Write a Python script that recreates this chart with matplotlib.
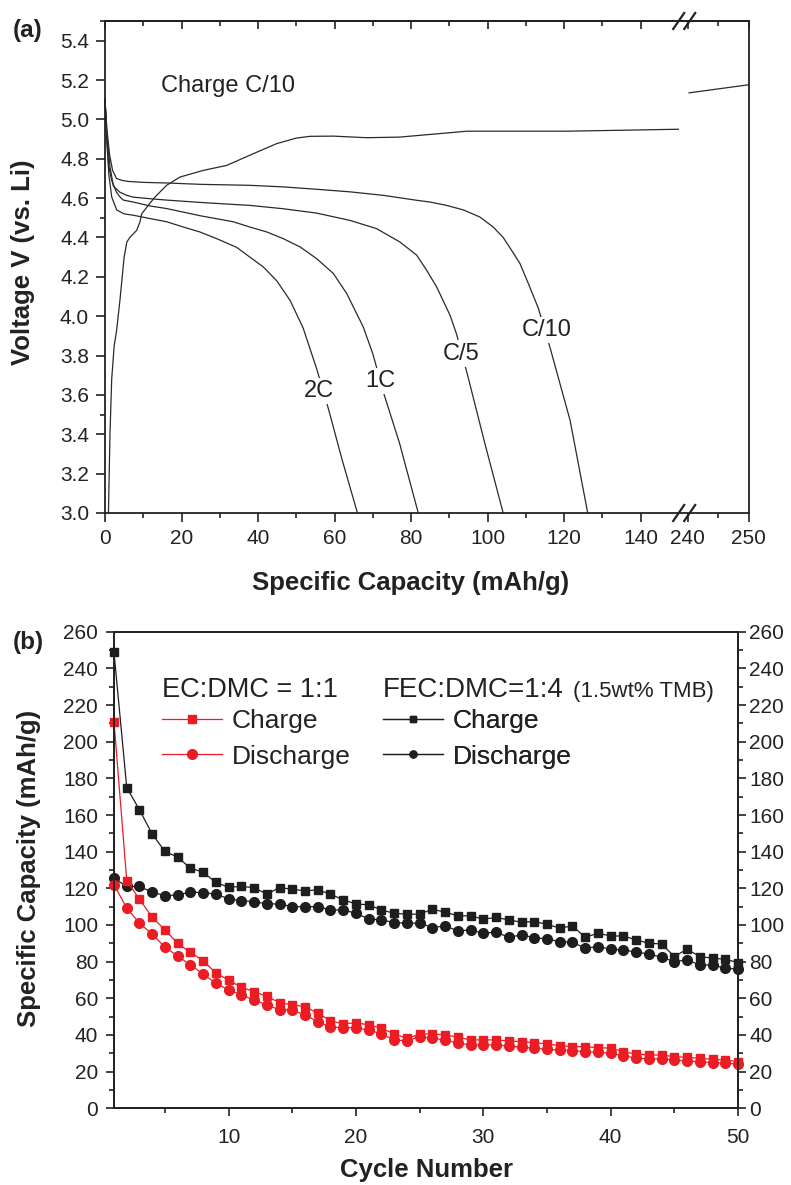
import matplotlib
matplotlib.use("Agg")
import matplotlib.pyplot as plt
from matplotlib.lines import Line2D

plt.rcParams['font.family'] = ['Liberation Sans', 'DejaVu Sans']

W, H = 791, 1185

# ---------------- panel (a): voltage profiles ----------------
c10_x = [0, 0.5, 1.2, 2.0, 3.0, 4.5, 6, 10, 16, 25, 37.9, 46.6, 55.3, 64, 72.8, 81.5, 85, 89.3, 93.7, 98, 101.5,
         104.1, 106.3, 108.5, 110.7, 113.3, 116.5, 121.6, 126.2]
c10_v = [5.10, 4.95, 4.82, 4.74, 4.70, 4.69, 4.685, 4.68, 4.677, 4.67, 4.665, 4.657, 4.645, 4.632, 4.614, 4.589, 4.58,
         4.563, 4.54, 4.504, 4.453, 4.40, 4.335, 4.267, 4.165, 4.04, 3.83, 3.47, 3.0]

c5_x = [0, 0.5, 1.3, 2.2, 3.9, 5.7, 7.4, 11.8, 16.1, 25, 33.5, 37.9, 46.6, 55.3, 64, 71, 77.1, 81.5, 84.1, 86.7,
        90.2, 91.9, 94.8, 99.3, 104.1]
c5_v = [5.10, 4.92, 4.76, 4.66, 4.63, 4.614, 4.605, 4.597, 4.59, 4.578, 4.568, 4.563, 4.546, 4.524, 4.487, 4.445,
        4.377, 4.31, 4.233, 4.149, 4.005, 3.91, 3.70, 3.354, 3.0]

c1_x = [0, 0.5, 1.0, 1.75, 3.0, 3.9, 4.8, 7.4, 11.8, 16.1, 25, 33.5, 37.9, 42.3, 46.6, 51, 55.3, 59.7, 63.2, 67.5,
        70, 73, 77, 81.9]
c1_v = [5.10, 4.90, 4.76, 4.69, 4.63, 4.606, 4.59, 4.58, 4.56, 4.547, 4.51, 4.48, 4.453, 4.428, 4.394, 4.352, 4.293,
        4.217, 4.115, 3.946, 3.81, 3.60, 3.355, 3.0]

c2_x = [0, 0.5, 1.0, 1.75, 3.05, 5, 7.4, 11.8, 16.1, 20.5, 24.8, 29.2, 34.4, 37.9, 41.4, 44.9, 48.4, 51.8, 55.3,
        58.4, 62, 66]
c2_v = [5.10, 4.88, 4.72, 4.606, 4.54, 4.52, 4.513, 4.496, 4.48, 4.453, 4.428, 4.394, 4.35, 4.30, 4.25, 4.18, 4.08,
        3.94, 3.735, 3.53, 3.27, 3.0]

chg_x = [0.9, 1.3, 1.75, 2.4, 3.05, 3.9, 4.4, 5.0, 5.7, 6.5, 8.3, 9.15, 9.6, 11.3, 13.1, 16.1, 19.6, 25.7,
         31.8, 38.8, 44.9, 50, 53.6, 59.7, 68.4, 77, 94.6, 120.7, 149.9]
chg_v = [3.0, 3.4, 3.68, 3.85, 3.93, 4.08, 4.18, 4.30, 4.377, 4.40, 4.437, 4.48, 4.52, 4.563, 4.606, 4.665, 4.707, 4.741,
         4.766, 4.826, 4.877, 4.905, 4.914, 4.915, 4.907, 4.91, 4.94, 4.94, 4.95]
chg_hi_x = [240.2, 250]
chg_hi_v = [5.135, 5.176]

rate_labels = ['2C', '1C', 'C/5', 'C/10']
rate_lab_x = [55.9, 71.9, 93.0, 115.5]
rate_lab_v = [3.62, 3.67, 3.81, 3.93]

# ---------------- panel (b): cycling ----------------
cycles = list(range(1, 51))
ec_charge = [211, 124.2, 114, 104.3, 97.3, 90, 85, 80.6, 73.7, 70, 66, 63.7, 61, 57.7, 56.4, 55.5, 51.9, 47.8, 46, 46.7,
             45.5, 43.7, 40.6, 38.2, 40.4, 40.6, 40, 38.8, 37.3, 37.3, 37.3, 36.7, 36.4, 35.8, 35.1, 34.2, 33.6, 33.6, 33.1, 32.8,
             30.9, 29.6, 29.1, 29, 28.2, 27.8, 27.3, 26.7, 26.4, 25.4]
ec_discharge = [122, 109.2, 101, 95, 87.9, 83.1, 78.2, 73.3, 68.2, 64.6, 61.9, 59.1, 56.4, 53.7, 53.7, 50.9, 47.3, 44.4, 44, 44,
                42.7, 40.6, 37.3, 36.8, 39.1, 38.2, 37.3, 35.5, 34.6, 34.6, 34.6, 34, 33.3, 32.8, 32.2, 31.8, 31.5, 30.9, 30.6, 30,
                28.7, 27.3, 27, 27, 26.4, 25.8, 25.4, 24.9, 24.6, 24.2]
fec_charge = [248.7, 175, 162.8, 149.6, 140.1, 137, 131, 128.8, 123.2, 120.6, 121, 120.4, 116.8, 120.4, 119.5, 118.6, 119.2,
              116.8, 113.7, 111.5, 111, 108.2, 106.4, 105.9, 105.9, 108.6, 107, 105, 105, 103.2, 104.1, 102.8, 101.5, 101.9,
              100.4, 98.3, 99.5, 93.3, 95.5, 94, 94, 91.9, 90, 89.7, 82.8, 86.8, 82.8, 81.9, 81.3, 79.5]
fec_discharge = [125.5, 121, 121, 117.9, 116, 116.4, 117.9, 117.7, 116.8, 114.3, 113.2, 112.8, 111.5, 111.5, 110, 110, 110,
                 108.2, 108.2, 106.4, 103.3, 102.8, 101.3, 101, 101, 98.6, 99.5, 96.8, 97.3, 95.5, 96.1, 93.3, 94.6, 93.1,
                 92.4, 90.9, 90.6, 87.3, 88.2, 86.8, 86.4, 85.2, 84.2, 82.4, 80, 81, 78.2, 78.2, 76.4, 75.9]

RED = '#ec1c24'
BLK = '#1e1e1e'
LINE = '#2a2a2a'
TXT = '#222222'

fig = plt.figure(figsize=(W / 100, H / 100), dpi=100)


def fbox(l, t, r, b):
    return [l / W, 1 - b / H, (r - l) / W, (b - t) / H]


def style(ax, lw=1.3):
    for s in ax.spines.values():
        s.set_linewidth(lw)
        s.set_color(TXT)
    ax.tick_params(which='both', width=1.2, color=TXT, labelsize=15, labelcolor=TXT)


# ---- (a)
ax1 = fig.add_axes(fbox(105, 21, 678.75, 513))
ax2 = fig.add_axes(fbox(678.75, 21, 748.7, 513))
for ax in (ax1, ax2):
    style(ax)
    ax.set_ylim(3.0, 5.5)

for xs, vs in [(c10_x, c10_v), (c5_x, c5_v), (c1_x, c1_v), (c2_x, c2_v), (chg_x, chg_v)]:
    ax1.plot(xs, vs, color=LINE, lw=0.9, clip_on=False)
ax2.plot(chg_hi_x, chg_hi_v, color=LINE, lw=0.9)

for lab, x, v in zip(rate_labels, rate_lab_x, rate_lab_v):
    ax1.text(x, v, lab, ha='center', va='center', fontsize=17, color=TXT,
             bbox=dict(fc='white', ec='none', pad=1.5))
ax1.text(32.2, 5.17, 'Charge C/10', ha='center', va='center', fontsize=17, color=TXT)

ax1.set_xlim(0, 150)
ax1.spines['right'].set_visible(False)
ax1.set_xticks(range(0, 141, 20))
ax1.set_xticks(range(10, 141, 20), minor=True)
ax1.set_yticks([3.0 + 0.2 * i for i in range(13)])
ax1.set_yticks([3.5, 4.5, 5.5], minor=True)
ax1.yaxis.set_major_formatter(matplotlib.ticker.FormatStrFormatter('%.1f'))
ax1.tick_params(which='both', direction='out', pad=5)
ax1.tick_params(which='major', length=6.5)
ax1.tick_params(which='minor', length=3.6)

ax2.set_xlim(238.5, 250)
ax2.spines['left'].set_visible(False)
ax2.set_xticks([240, 250])
ax2.set_xticks([245], minor=True)
ax2.set_yticks([])
ax2.tick_params(which='both', direction='out', pad=5)
ax2.tick_params(which='major', length=6.5)
ax2.tick_params(which='minor', length=3.6)

for ax, maj, mnr in [(ax1, range(0, 141, 20), range(10, 141, 20)), (ax2, [240, 250], [245])]:
    sec = ax.secondary_xaxis('top')
    sec.set_xticks(list(maj))
    sec.set_xticks(list(mnr), minor=True)
    sec.tick_params(which='both', direction='in', labeltop=False, width=1.2, color=TXT)
    sec.tick_params(which='major', length=6)
    sec.tick_params(which='minor', length=3.6)
    sec.spines['top'].set_linewidth(1.3)

# break marks
for py in (21, 513):
    for cx in (678.7, 689.7):
        fig.add_artist(Line2D([(cx - 5.5) / W, (cx + 5.5) / W], [1 - (py + 8) / H, 1 - (py - 8) / H],
                              color=TXT, lw=1.6))

fig.text(23 / W, 1 - 262 / H, 'Voltage V (vs. Li)', rotation=90, ha='center', va='center',
         fontsize=18.5, fontweight='bold', color=TXT)
fig.text(411 / W, 1 - 583 / H, 'Specific Capacity (mAh/g)', ha='center', va='center',
         fontsize=18.5, fontweight='bold', color=TXT)
fig.text(28 / W, 1 - 30 / H, '(a)', ha='center', va='center', fontsize=17.5, fontweight='bold', color=TXT)

# ---- (b)
axb = fig.add_axes(fbox(114, 631.7, 738, 1108.3))
style(axb)
axb.plot(cycles, fec_charge, marker='s', color=BLK, ms=6.3, lw=0.9, mec=BLK, clip_on=False, zorder=3)
axb.plot(cycles, fec_discharge, marker='o', color=BLK, ms=7, lw=0.9, mec=BLK, clip_on=False, zorder=3)
axb.plot(cycles, ec_charge, marker='s', color=RED, ms=6.3, lw=0.9, mec=RED, clip_on=False, zorder=4)
axb.plot(cycles, ec_discharge, marker='o', color=RED, ms=7, lw=0.9, mec=RED, clip_on=False, zorder=4)
axb.set_xlim(1, 50)
axb.set_ylim(0, 260)
axb.set_xticks([10, 20, 30, 40, 50])
axb.set_xticks([5, 15, 25, 35, 45], minor=True)
axb.set_yticks(range(0, 261, 20))
axb.set_yticks(range(10, 260, 20), minor=True)
axb.tick_params(which='both', direction='out', top=False)
axb.tick_params(which='major', length=5.5)
axb.tick_params(which='minor', length=3.6)
axb.tick_params(axis='y', which='major', pad=6)
axb.tick_params(axis='x', which='major', pad=9)

axr = axb.twinx()
style(axr)
axr.set_ylim(0, 260)
axr.set_yticks(range(0, 261, 20))
axr.set_yticks(range(10, 260, 20), minor=True)
axr.tick_params(which='both', direction='out')
axr.tick_params(which='major', length=5.5, pad=2.5)
axr.tick_params(which='minor', length=3.6)

red_h = [Line2D([], [], color=RED, lw=0.9, marker='s', ms=6.3), Line2D([], [], color=RED, lw=0.9, marker='o', ms=7)]
blk_h = [Line2D([], [], color=BLK, lw=0.9, marker='s', ms=4.5), Line2D([], [], color=BLK, lw=0.9, marker='o', ms=5)]
for hs, lx in [(red_h, 162), (blk_h, 383)]:
    leg = axr.legend(handles=hs, labels=['Charge', 'Discharge'], loc='upper left',
                     bbox_to_anchor=(lx / W, 1 - 709 / H), bbox_transform=fig.transFigure,
                     frameon=False, fontsize=19, handlelength=2.27, handletextpad=0.38,
                     borderpad=0, borderaxespad=0, labelspacing=0.44)
    for t in leg.get_texts():
        t.set_color(TXT)
    axr.add_artist(leg)

fig.text(162 / W, 1 - 697 / H, 'EC:DMC = 1:1', ha='left', va='baseline', fontsize=19.5, color=TXT)
fig.text(383 / W, 1 - 697 / H, 'FEC:DMC=1:4', ha='left', va='baseline', fontsize=20, color=TXT)
fig.text(573 / W, 1 - 697 / H, '(1.5wt% TMB)', ha='left', va='baseline', fontsize=16, color=TXT)

fig.text(29 / W, 1 - 868 / H, 'Specific Capacity (mAh/g)', rotation=90, ha='center', va='center',
         fontsize=18.5, fontweight='bold', color=TXT)
fig.text(426 / W, 1 - 1170 / H, 'Cycle Number', ha='center', va='center',
         fontsize=18.5, fontweight='bold', color=TXT)
fig.text(28 / W, 1 - 642 / H, '(b)', ha='center', va='center', fontsize=17.5, fontweight='bold', color=TXT)

fig.savefig('out.png', dpi=100)
